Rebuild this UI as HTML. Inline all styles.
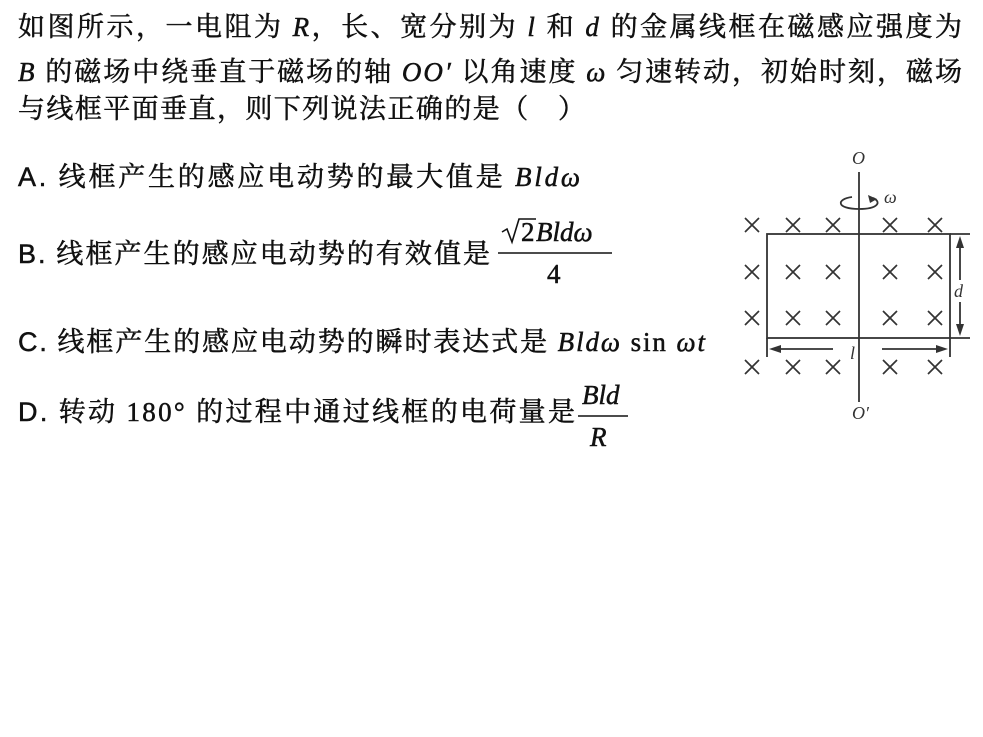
<!DOCTYPE html>
<html><head><meta charset="utf-8"><style>
html,body{margin:0;padding:0;background:#fff;}
svg{display:block;}
.t{font-family:"Liberation Serif","Noto Serif CJK SC","Noto Sans CJK SC",serif;font-size:27px;fill:#111;stroke:#111;stroke-width:0.5px;}
.m{font-family:"Liberation Serif",serif;font-style:italic;}
.r{font-family:"Liberation Serif",serif;font-style:normal;}
.s{font-family:"Liberation Sans",sans-serif;}
</style></head><body>
<svg width="983" height="737" viewBox="0 0 983 737" xmlns="http://www.w3.org/2000/svg">
<rect width="983" height="737" fill="#fff"/>
<text class="t" x="18" y="36" textLength="944" lengthAdjust="spacing">如图所示，一电阻为 <tspan class="m">R</tspan>，长、宽分别为 <tspan class="m">l</tspan> 和 <tspan class="m">d</tspan> 的金属线框在磁感应强度为</text>
<text class="t" x="18" y="81" textLength="944" lengthAdjust="spacing"><tspan class="m">B</tspan> 的磁场中绕垂直于磁场的轴 <tspan class="m">OO′</tspan> 以角速度 <tspan class="m">ω</tspan> 匀速转动，初始时刻，磁场</text>
<text class="t" x="18" y="118" textLength="567" lengthAdjust="spacing">与线框平面垂直，则下列说法正确的是（　）</text>
<text class="t" x="18" y="186" textLength="562" lengthAdjust="spacing"><tspan class="s">A.</tspan> 线框产生的感应电动势的最大值是 <tspan class="m">Bldω</tspan></text>
<text class="t" x="18" y="263" textLength="472" lengthAdjust="spacing"><tspan class="s">B.</tspan> 线框产生的感应电动势的有效值是</text>
<path d="M502 232 L507 229 L512 242 L519 219 L536 219" stroke="#111" stroke-width="1.6" fill="none"/>
<text class="t r" x="521" y="241">2</text>
<text class="t m" x="536" y="241">Bldω</text>
<line x1="498" y1="253" x2="612" y2="253" stroke="#111" stroke-width="1.5"/>
<text class="t r" x="547" y="283">4</text>
<text class="t" x="18" y="351" textLength="687" lengthAdjust="spacing"><tspan class="s">C.</tspan> 线框产生的感应电动势的瞬时表达式是 <tspan class="m">Bldω</tspan> <tspan class="r">sin</tspan> <tspan class="m">ωt</tspan></text>
<text class="t" x="18" y="421" textLength="557" lengthAdjust="spacing"><tspan class="s">D.</tspan> 转动 <tspan class="r">180°</tspan> 的过程中通过线框的电荷量是</text>
<text class="t m" x="582" y="404">Bld</text>
<line x1="578" y1="416" x2="628" y2="416" stroke="#111" stroke-width="1.5"/>
<text class="t m" x="590" y="446">R</text>

<g stroke="#333" stroke-width="1.8" fill="none">
<line x1="859" y1="172" x2="859" y2="402"/>
<rect x="767" y="234" width="183" height="104"/>
<line x1="950" y1="234" x2="970" y2="234"/>
<line x1="950" y1="338" x2="970" y2="338"/>
<line x1="767" y1="338" x2="767" y2="357"/>
<line x1="950" y1="338" x2="950" y2="357"/>
<line x1="960" y1="246" x2="960" y2="280"/>
<line x1="960" y1="302" x2="960" y2="326"/>
<line x1="780" y1="349" x2="833" y2="349"/>
<line x1="882" y1="349" x2="938" y2="349"/>
<path d="M852 197 C836 199 836 209 859 209 C878 209 882 202 873 198"/>
</g>
<g fill="#333">
<polygon points="960,236 956,248 964,248"/>
<polygon points="960,336 956,324 964,324"/>
<polygon points="769,349 781,345 781,353"/>
<polygon points="948,349 936,345 936,353"/>
<polygon points="868,195 877,199 870,203"/>
</g>
<g stroke="#333" stroke-width="1.7">
<path d="M745 218l14 14M759 218l-14 14 M786 218l14 14M800 218l-14 14 M826 218l14 14M840 218l-14 14 M883 218l14 14M897 218l-14 14 M928 218l14 14M942 218l-14 14"/>
<path d="M745 265l14 14M759 265l-14 14 M786 265l14 14M800 265l-14 14 M826 265l14 14M840 265l-14 14 M883 265l14 14M897 265l-14 14 M928 265l14 14M942 265l-14 14"/>
<path d="M745 311l14 14M759 311l-14 14 M786 311l14 14M800 311l-14 14 M826 311l14 14M840 311l-14 14 M883 311l14 14M897 311l-14 14 M928 311l14 14M942 311l-14 14"/>
<path d="M745 360l14 14M759 360l-14 14 M786 360l14 14M800 360l-14 14 M826 360l14 14M840 360l-14 14 M883 360l14 14M897 360l-14 14 M928 360l14 14M942 360l-14 14"/>
</g>
<g font-family="Liberation Serif,serif" font-style="italic" font-size="18" fill="#333">
<text x="852" y="164">O</text>
<text x="852" y="419">O′</text>
<text x="884" y="203">ω</text>
<text x="954" y="297">d</text>
<text x="850" y="359">l</text>
</g>
</svg>
</body></html>
